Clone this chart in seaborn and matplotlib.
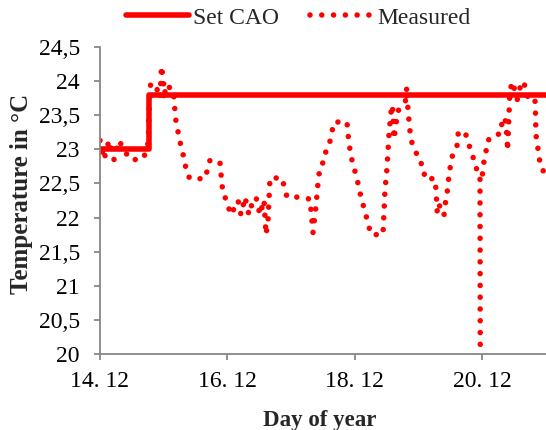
import pandas as pd
import seaborn as sns
import matplotlib.pyplot as plt

# set point of the CAO (day of year in december, degC)
set_days = [14.0, 14.77, 21.0]
set_temps = [23.0, 23.8, 23.8]

# measured room temperature
meas_days = [14.000, 14.063, 14.141, 14.220, 14.298, 14.392, 14.471, 14.565, 14.659, 14.722,
             14.761, 14.765, 14.793, 14.863, 14.942, 14.965, 14.997, 15.004, 15.036, 15.099,
             15.150, 15.177, 15.193, 15.224, 15.255, 15.287, 15.334, 15.350, 15.412, 15.648,
             15.726, 15.883, 15.899, 15.930, 15.962, 16.056, 16.166, 16.213, 16.276, 16.338,
             16.385, 16.448, 16.511, 16.574, 16.605, 16.637, 16.668, 16.856, 16.935, 17.139,
             17.296, 17.343, 17.390, 17.421, 17.453, 17.531, 17.547, 17.610, 17.672, 17.876,
             17.908, 17.955, 18.033, 18.096, 18.175, 18.253, 18.441, 18.473, 18.504, 18.536,
             18.567, 18.590, 18.598, 18.614, 18.645, 18.669, 18.739, 18.810, 18.812, 18.834,
             18.865, 18.896, 18.959, 18.991, 19.085, 19.093, 19.257, 19.273, 19.293, 19.320,
             19.352, 19.399, 19.414, 19.446, 19.461, 19.493, 19.501, 19.540, 19.603, 19.611,
             19.728, 19.760, 19.807, 19.854, 19.885, 19.964, 19.968, 20.003, 20.019, 20.058,
             20.066, 20.152, 20.293, 20.309, 20.356, 20.392, 20.395, 20.411, 20.427, 20.434,
             20.477, 20.513, 20.549, 20.591, 20.634, 20.696, 20.721, 20.827, 20.834, 20.842,
             20.863, 20.894, 20.905, 20.973, 21.062]
meas_temps = [23.13, 22.85, 23.13, 22.85, 23.13, 22.97, 22.85, 22.85, 22.85, 22.95,
              23.13, 23.50, 23.94, 23.97, 23.75, 24.22, 24.00, 23.73, 23.95, 23.90,
              23.88, 23.56, 23.40, 23.26, 23.12, 22.97, 22.84, 22.67, 22.57, 22.57,
              22.84, 22.81, 22.64, 22.34, 22.30, 22.04, 22.25, 22.04, 22.30, 22.04,
              22.20, 22.30, 22.04, 22.26, 21.75, 21.95, 22.58, 22.58, 22.30, 22.30,
              22.27, 21.78, 22.17, 22.50, 22.75, 22.84, 23.00, 23.12, 23.40, 23.40,
              23.08, 22.84, 22.57, 22.30, 22.03, 21.75, 21.75, 22.40, 22.72, 23.22,
              23.54, 23.65, 23.48, 23.15, 23.35, 23.55, 23.65, 23.73, 23.92, 23.58,
              23.27, 23.10, 22.97, 22.84, 22.75, 22.57, 22.57, 22.41, 22.08, 22.20,
              22.10, 22.03, 22.18, 22.33, 22.50, 22.70, 22.81, 22.93, 23.05, 23.22,
              23.27, 23.15, 23.02, 22.89, 22.75, 22.64, 20.00, 22.64, 22.79, 22.93,
              23.10, 23.20, 23.23, 23.41, 23.47, 23.16, 22.98, 23.30, 23.70, 23.87,
              23.99, 23.85, 23.73, 23.90, 24.00, 23.88, 23.73, 23.73, 23.56, 23.22,
              23.06, 22.92, 22.76, 22.66, 22.63]

xticks = [14, 16, 18, 20]
xtick_labels = ['14. 12', '16. 12', '18. 12', '20. 12']
yticks = [20, 20.5, 21, 21.5, 22, 22.5, 23, 23.5, 24, 24.5]
ytick_labels = ['20', '20,5', '21', '21,5', '22', '22,5', '23', '23,5', '24', '24,5']

sns.set_style('ticks')
plt.rcParams['font.family'] = ['Liberation Serif', 'DejaVu Serif']
plt.rcParams['font.size'] = 17

set_df = pd.DataFrame({'day': set_days, 'temp': set_temps})
meas_df = pd.DataFrame({'day': meas_days, 'temp': meas_temps})
# the sensor dropout to 20 °C is drawn as its own trace so the dots on the drop are not doubled
meas_df['trace'] = (meas_df.index > meas_df['temp'].idxmin()).astype(int)

fig = plt.figure(figsize=(5.46, 4.30), dpi=100)
ax = fig.add_axes([100 / 546, 1 - 354 / 430, 446 / 546, 307 / 430])

sns.lineplot(data=set_df, x='day', y='temp', ax=ax, color='#ff0000', linewidth=4,
             drawstyle='steps-post', estimator=None, sort=False, label='Set CAO')
sns.lineplot(data=meas_df, x='day', y='temp', units='trace', ax=ax, color='#ff0000',
             linewidth=4, linestyle=(0, (0.001, 2.12)), dash_capstyle='round',
             estimator=None, sort=False, label='Measured')

ax.set_xlim(14, 21)
ax.set_ylim(20, 24.5)
ax.set_xticks(xticks)
ax.set_xticklabels(xtick_labels)
ax.set_yticks(yticks)
ax.set_yticklabels(ytick_labels)

for side in ['top', 'right']:
    ax.spines[side].set_visible(False)
for side in ['left', 'bottom']:
    ax.spines[side].set_color('#878787')
    ax.spines[side].set_linewidth(1.3)
ax.tick_params(axis='both', direction='out', length=4.5, width=1.3, color='#878787',
               labelsize=17, labelcolor='black')
ax.tick_params(axis='y', pad=10)
ax.tick_params(axis='x', pad=8)

ax.set_xlabel('Day of year', fontweight='bold', fontsize=16.5)
ax.set_ylabel('Temperature in °C', fontweight='bold', fontsize=18)
ax.xaxis.set_label_coords(0.493, -0.183)
ax.yaxis.set_label_coords(-0.150, 0.521)

handles, labels = ax.get_legend_handles_labels()
uniq = dict(zip(labels, handles))
ax.legend(list(uniq.values()), list(uniq.keys()), loc='center',
          bbox_to_anchor=(298 / 546, 1 - 18 / 430), bbox_transform=fig.transFigure,
          ncol=2, frameon=False, handlelength=2.7, handletextpad=0.15, columnspacing=1.3,
          fontsize=17)

fig.savefig('out.png', dpi=100)
